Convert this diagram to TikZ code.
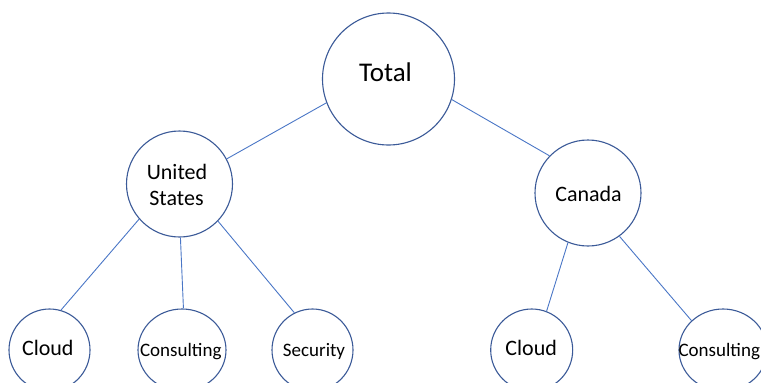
\documentclass[tikz,border=0pt]{standalone}
\usepackage{fontspec}
\setmainfont{Carlito}
\usetikzlibrary{shapes.geometric}
\definecolor{ringc}{HTML}{3B5A98}
\definecolor{linkc}{HTML}{4A76C6}
\tikzset{
  ring/.style={circle, draw=ringc, line width=1.1pt, inner sep=0pt, fill=white},
  oval/.style={ellipse, draw=ringc, line width=1.1pt, inner sep=0pt, fill=white},
  link/.style={draw=linkc, line width=0.9pt},
  lbl/.style={anchor=base, inner sep=0pt, text=black}
}
\begin{document}
\begin{tikzpicture}[x=1pt,y=-1pt]
\useasboundingbox (0,0) rectangle (761,383);
% shapes
\node[ring, minimum size=132pt] (total) at (388.5,79) {};
\node[ring, minimum size=106pt] (us) at (179.5,184) {};
\node[ring, minimum size=106pt] (ca) at (588,193) {};
\node[oval, minimum width=81pt, minimum height=82pt] (uscloud) at (49.5,350) {};
\node[oval, minimum width=88pt, minimum height=82pt] (uscons) at (182,350) {};
\node[oval, minimum width=81pt, minimum height=82pt] (ussec) at (312.5,350) {};
\node[oval, minimum width=82pt, minimum height=82pt] (cacloud) at (531.7,350) {};
\node[oval, minimum width=88pt, minimum height=82pt] (cacons) at (723,350) {};
% connectors
\draw[link] (total.201) -- (us.28);
\draw[link] (total.-18.7) -- (ca.136);
\draw[link] (us.221) -- (uscloud.74);
\draw[link] (us.-89.5) -- (uscons.88);
\draw[link] (us.-44) -- (ussec.116);
\draw[link] (ca.-112) -- (cacloud.69);
\draw[link] (ca.-54.6) -- (cacons.137);
% labels
\node[lbl, font=\fontsize{27}{30}\selectfont] (totalt) at (385.5,81.7) {Total};
\node[lbl, font=\fontsize{22}{26}\selectfont] (ust1) at (177,179) {United};
\node[lbl, font=\fontsize{22}{26}\selectfont] (ust2) at (176.5,205) {States};
\node[lbl, font=\fontsize{22}{26}\selectfont] (cat) at (588.5,201.7) {Canada};
\node[lbl, font=\fontsize{22}{26}\selectfont] (uscloudt) at (47.8,355) {Cloud};
\node[lbl, font=\fontsize{19}{22}\selectfont] (usconst) at (180.8,356) {Consulting};
\node[lbl, font=\fontsize{19}{22}\selectfont] (ussect) at (314,356) {Security};
\node[lbl, font=\fontsize{22}{26}\selectfont] (cacloudt) at (531.2,355) {Cloud};
\node[lbl, font=\fontsize{19}{22}\selectfont] (caconst) at (719.3,356) {Consulting};
\end{tikzpicture}
\end{document}
